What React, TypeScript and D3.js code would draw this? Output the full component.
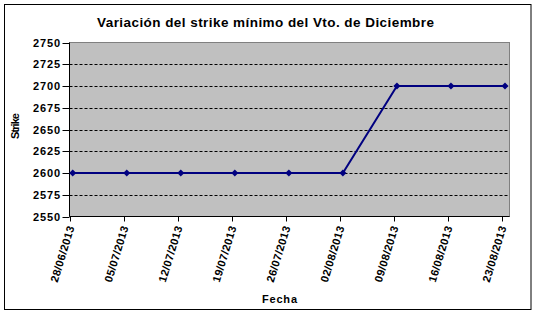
import React from "react";
import * as d3 from "d3";

const dateLabels = [
  "28/06/2013", "05/07/2013", "12/07/2013", "19/07/2013", "26/07/2013",
  "02/08/2013", "09/08/2013", "16/08/2013", "23/08/2013",
];
const strikeValues = [2600, 2600, 2600, 2600, 2600, 2600, 2700, 2700, 2700];
const yTicks = [2550, 2575, 2600, 2625, 2650, 2675, 2700, 2725, 2750];
const axisStart = "28/06/2013";
const axisEnd = "24/08/2013";
const title = "Variación del strike mínimo del Vto. de Diciembre";
const yTitle = "Strike";
const xTitle = "Fecha";

const W = 536;
const H = 314;
const FONT = "Arial, 'Liberation Sans', sans-serif";

export default function App() {
  const parse = d3.utcParse("%d/%m/%Y");
  const plot = { left: 69.5, right: 509.5, top: 42.5, bottom: 216.5 };
  const x = d3
    .scaleUtc()
    .domain([parse(axisStart)!, parse(axisEnd)!])
    .range([plot.left, plot.right]);
  const y = d3.scaleLinear().domain([2550, 2750]).range([plot.bottom, plot.top]);

  const tickDates = dateLabels.map((s) => parse(s)!);
  const points = dateLabels.map((s, i) => ({
    d: d3.utcHour.offset(parse(s)!, 10),
    v: strikeValues[i],
  }));
  const line = d3
    .line<{ d: Date; v: number }>()
    .x((p) => x(p.d))
    .y((p) => y(p.v));
  const marker = d3.symbol().type(d3.symbolSquare).size(25)()!;

  return (
    <svg
      width={W}
      height={H}
      style={{ position: "absolute", left: 0, top: 0, background: "#fff" }}
      fontFamily={FONT}
    >
      <rect x={0} y={0} width={W} height={H} fill="#fff" />
      <rect x={4.5} y={4.5} width={526.5} height={305} fill="#fff" stroke="#000" strokeWidth={1} />
      <text
        x={97}
        y={26.5}
        fontSize={13.5}
        fontWeight="bold"
        fill="#000"
        textLength={337}
        lengthAdjust="spacing"
      >
        {title}
      </text>
      {/* plot area */}
      <rect
        x={plot.left}
        y={plot.top}
        width={plot.right - plot.left}
        height={plot.bottom - plot.top}
        fill="#c0c0c0"
        stroke="#808080"
        strokeWidth={1}
      />
      {yTicks
        .filter((t) => t !== 2550 && t !== 2750)
        .map((t) => (
          <line
            key={t}
            x1={plot.left}
            x2={plot.right}
            y1={Math.round(y(t)) + 0.5}
            y2={Math.round(y(t)) + 0.5}
            stroke="#000"
            strokeDasharray="3,2"
            strokeWidth={1}
          />
        ))}
      {/* axes */}
      <line x1={plot.left} x2={plot.left} y1={plot.top} y2={plot.bottom} stroke="#000" />
      <line x1={plot.left} x2={plot.right} y1={plot.bottom} y2={plot.bottom} stroke="#000" />
      {yTicks.map((t) => (
        <g key={t}>
          <line
            x1={plot.left - 7}
            x2={plot.left}
            y1={Math.round(y(t)) + 0.5}
            y2={Math.round(y(t)) + 0.5}
            stroke="#000"
          />
          <text
            x={33}
            y={y(t) + 4}
            fontSize={11}
            fontWeight="bold"
            fill="#000"
            textLength={27}
            lengthAdjust="spacing"
          >
            {t}
          </text>
        </g>
      ))}
      {tickDates.map((d, i) => {
        const tx = Math.round(x(d)) + 0.5;
        return (
          <g key={i}>
            <line x1={tx} x2={tx} y1={plot.bottom} y2={plot.bottom + 5} stroke="#000" />
            <g transform={`translate(${tx + 4},${plot.bottom + 11}) rotate(-73)`}>
              <text
                x={-58}
                y={0}
                fontSize={11}
                fontWeight="bold"
                fill="#000"
                textLength={58}
                lengthAdjust="spacing"
              >
                {dateLabels[i]}
              </text>
            </g>
          </g>
        );
      })}
      <path d={line(points)!} fill="none" stroke="#000080" strokeWidth={2} />
      {points.map((p, i) => (
        <path
          key={i}
          d={marker}
          transform={`translate(${x(p.d)},${y(p.v)}) rotate(45)`}
          fill="#000080"
        />
      ))}
      <g transform={`translate(18.5,139) rotate(-90)`}>
        <text
          x={0}
          y={0}
          fontSize={11}
          fontWeight="bold"
          fill="#000"
          textLength={26}
          lengthAdjust="spacing"
        >
          {yTitle}
        </text>
      </g>
      <text
        x={262}
        y={303}
        fontSize={11}
        fontWeight="bold"
        fill="#000"
        textLength={35}
        lengthAdjust="spacing"
      >
        {xTitle}
      </text>
    </svg>
  );
}
